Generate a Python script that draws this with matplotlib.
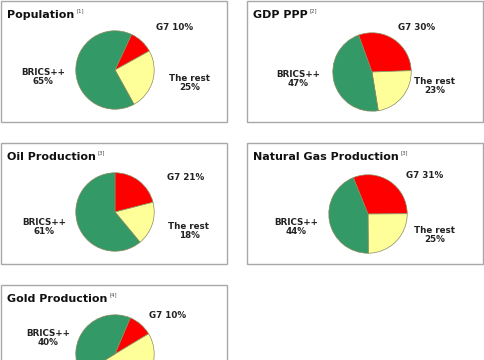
import matplotlib
matplotlib.use("Agg")
import matplotlib.pyplot as plt
from matplotlib.patches import Rectangle

W, H = 485, 360

titles = ["Population", "GDP PPP", "Oil Production", "Natural Gas Production", "Gold Production"]
notes = ["[1]", "[2]", "[3]", "[3]", "[4]"]
g7 = [10, 30, 21, 31, 10]
rest = [25, 23, 18, 25, 50]
brics = [65, 47, 61, 44, 40]
start_angles = [65, 110, 90, 112, 67]

colors = ["#ff0000", "#ffff99", "#339966"]

# layout (pixels)
panels = [(1, 1, 227, 122), (247, 1, 483, 122), (1, 143, 227, 264),
          (247, 143, 483, 264), (1, 285, 227, 400)]
centers = [(115, 70), (372, 72), (115, 212), (368, 214), (115, 354)]
radius = 40
g7_pos = [(175, 27), (417, 27), (186, 178), (425, 176), (168, 316)]
rest_pos = [(190, 83), (435, 86), (189, 231), (435, 235), None]
brics_pos = [(43, 77), (298, 79), (44, 227), (296, 227), (48, 338)]

fig = plt.figure(figsize=(W / 100, H / 100), dpi=100)
fig.patch.set_facecolor("white")


def fx(x):
    return x / W


def fy(y):
    return 1 - y / H


for i in range(len(titles)):
    x0, y0, x1, y1 = panels[i]
    fig.patches.append(Rectangle((fx(x0), fy(y1)), fx(x1) - fx(x0), fy(y0) - fy(y1),
                                 transform=fig.transFigure, fill=False,
                                 edgecolor="#a8a8a8", linewidth=1.0))
    t = fig.text(fx(x0 + 6), fy(y0 + 14), titles[i], fontsize=8.0, fontweight="bold",
                 color="#111111", va="center", ha="left", family="DejaVu Sans")
    fig.canvas.draw()
    bb = t.get_window_extent()
    fig.text(bb.x1 / W + 2 / W, fy(y0 + 10), notes[i], fontsize=3.8, color="#444444",
             va="center", ha="left")

    cx, cy = centers[i]
    ax = fig.add_axes([fx(cx - radius), fy(cy + radius), 2 * radius / W, 2 * radius / H])
    ax.pie([g7[i], rest[i], brics[i]], colors=colors, startangle=start_angles[i],
           counterclock=False, radius=1,
           wedgeprops=dict(edgecolor="#8a8a60", linewidth=0.5))
    ax.set_xlim(-1.02, 1.02)
    ax.set_ylim(-1.02, 1.02)
    ax.set_aspect("equal")
    ax.axis("off")

    lbl = dict(fontsize=6.3, fontweight="bold", color="#222222", ha="center", va="center")
    gx, gy = g7_pos[i]
    fig.text(fx(gx), fy(gy), f"G7 {g7[i]}%", **lbl)
    if rest_pos[i] is not None:
        rx, ry = rest_pos[i]
        fig.text(fx(rx), fy(ry), f"The rest\n{rest[i]}%", linespacing=1.1, **lbl)
    bx, by = brics_pos[i]
    fig.text(fx(bx), fy(by), f"BRICS++\n{brics[i]}%", linespacing=1.1, **lbl)

fig.savefig("out.png", dpi=100, facecolor="white")
